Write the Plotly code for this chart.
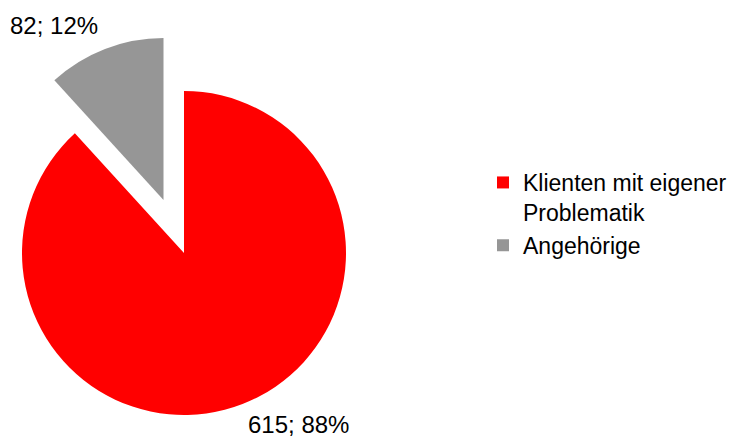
import plotly.graph_objects as go

# Data
labels = ["Klienten mit eigener<br>Problematik", "Angehörige"]
values = [615, 82]
colors = ["#ff0000", "#969696"]

W, H = 743, 439
total = sum(values)
slice_text = [f"{v}; {v / total:.0%}" for v in values]
clear = "rgba(0,0,0,0)"
FONT = "Liberation Sans, Arial, sans-serif"


def dom(cx, cy, r):
    """Pie domain (paper fractions) for a pie centred at pixel (cx, cy) with radius r."""
    return dict(x=[(cx - r) / W, (cx + r) / W],
                y=[(H - cy - r) / H, (H - cy + r) / H])


common = dict(labels=labels, values=values, sort=False, direction="clockwise",
              rotation=0, hoverinfo="skip", textinfo="none")

fig = go.Figure()

# legend source (tiny, sits underneath the main slice)
fig.add_trace(go.Pie(**common, marker=dict(colors=colors),
                     domain=dom(184, 330, 1), showlegend=True))

# main slice
fig.add_trace(go.Pie(**common, marker=dict(colors=[colors[0], clear]),
                     domain=dom(184, 253, 162), showlegend=False))

# exploded slice
fig.add_trace(go.Pie(**common, marker=dict(colors=[clear, colors[1]]),
                     domain=dom(163.5, 200, 162), showlegend=False))

# value labels outside the slices
label_font = dict(family=FONT, size=24, color="#000000")
fig.add_annotation(text=slice_text[0], x=247 / W, y=0,
                   xref="paper", yref="paper", xanchor="left", yanchor="bottom",
                   borderpad=0, showarrow=False, font=label_font)
fig.add_annotation(text=slice_text[1], x=100 / W, y=(H - 25) / H,
                   xref="paper", yref="paper", xanchor="right", yanchor="middle",
                   showarrow=False, font=label_font)

fig.update_layout(
    width=W, height=H,
    margin=dict(l=0, r=0, t=0, b=0),
    paper_bgcolor="white", plot_bgcolor="white",
    font=dict(family=FONT, color="#000000"),
    legend=dict(x=483 / W, y=(H - 161) / H, xanchor="left", yanchor="top",
                valign="top",
                font=dict(family=FONT, size=23, color="#000000"),
                bgcolor="rgba(0,0,0,0)", tracegroupgap=0),
)

fig.write_html("out.html")
